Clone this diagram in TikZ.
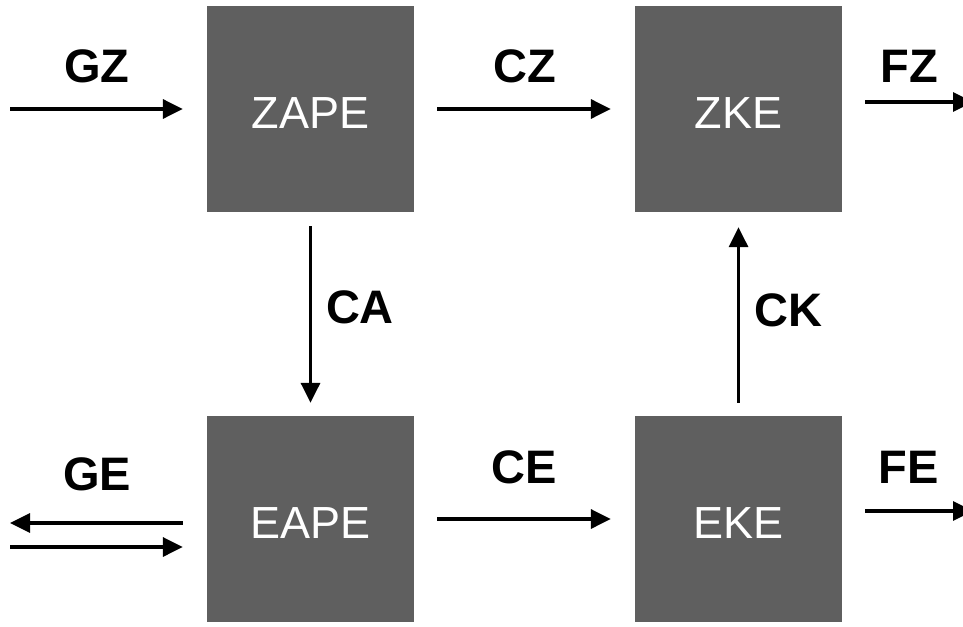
\documentclass[tikz,border=0pt]{standalone}
\usepackage{fontspec}
\setmainfont{Liberation Sans}
\usetikzlibrary{arrows.meta}
\definecolor{boxgray}{RGB}{95,95,95}
\tikzset{
  unit/.style={rectangle, fill=boxgray, draw=none, minimum width=207pt, minimum height=206pt,
    inner sep=0pt, text=white, font=\fontsize{45}{50}\selectfont, text height=38pt, text depth=0pt},
  lbl/.style={inner sep=0pt, font=\fontsize{47}{50}\selectfont\bfseries},
  arr/.style={line width=3.4pt, -{Triangle[length=20pt,width=19pt]}},
}
\begin{document}
\begin{tikzpicture}[x=1pt,y=-1pt]
\useasboundingbox (0,0) rectangle (963,626);
\clip (0,0) rectangle (963,626);
% boxes
\node[unit] (zape) at (310.5,109) {ZAPE};
\node[unit] (zke)  at (738.5,109) {ZKE};
\node[unit] (eape) at (310.5,519) {EAPE};
\node[unit] (eke)  at (738.5,519) {EKE};
% free ends
\coordinate (gzs) at (10,109);
\coordinate (fze) at (973,102);
\coordinate (fee) at (973,511);
\coordinate (geo) at (10,523);
\coordinate (gei) at (10,547);
% connectors
\draw[arr, shorten >=24pt] (gzs) -- (zape.west);
\draw[arr, shorten <=23pt, shorten >=24pt] (zape) -- (zke);
\draw[arr, shorten <=23pt] ([yshift=7pt]zke.east) -- (fze);
\draw[arr, shorten <=14pt, shorten >=13pt] (zape) -- (eape);
\draw[arr, shorten <=13pt, shorten >=15pt] (eke) -- (zke);
\draw[arr, shorten <=23pt, shorten >=24pt] (eape) -- (eke);
\draw[arr, shorten <=23pt] ([yshift=8pt]eke.east) -- (fee);
\draw[arr, shorten <=24pt] ([yshift=-4pt]eape.west) -- (geo);
\draw[arr, shorten >=24pt] (gei) -- ([yshift=-28pt]eape.west);
% labels
\node[lbl] (lgz) at (97,66) {GZ};
\node[lbl] (lcz) at (525,66) {CZ};
\node[lbl] (lfz) at (909,66) {FZ};
\node[lbl] (lca) at (360,307) {CA};
\node[lbl] (lck) at (788,310) {CK};
\node[lbl] (lge) at (97,474) {GE};
\node[lbl] (lce) at (524,467) {CE};
\node[lbl] (lfe) at (909,467) {FE};
\end{tikzpicture}
\end{document}
